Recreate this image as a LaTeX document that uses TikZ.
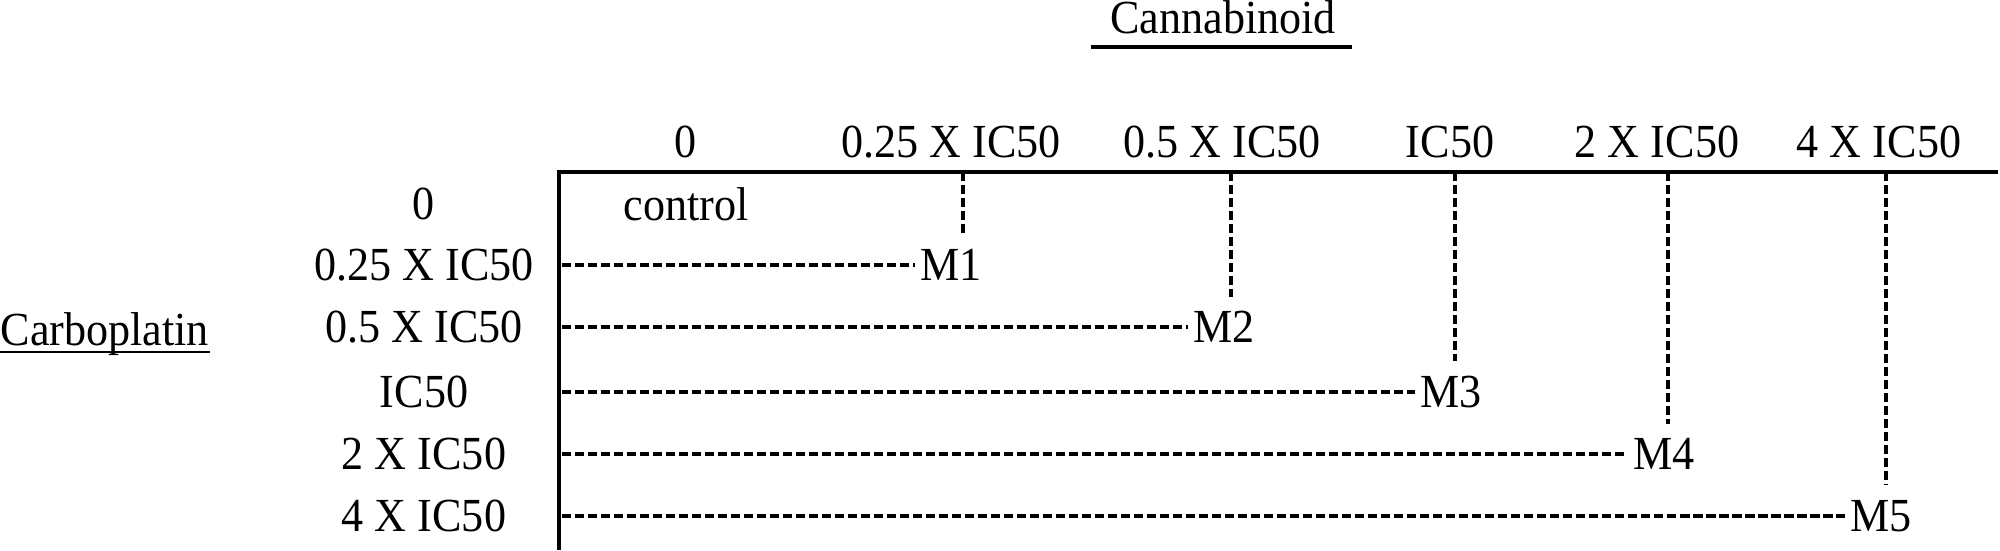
\documentclass[tikz,border=0pt]{standalone}
\usepackage{fontspec}
\setmainfont{Liberation Serif}
\begin{document}
\begin{tikzpicture}[
  every node/.style={font=\fontsize{13.5}{16}\selectfont, inner sep=0pt, xscale=0.93},
  axisline/.style={line width=1pt},
  dashline/.style={line width=1.35pt, dash pattern=on 2.6pt off 1.1pt},
  mlabel/.style={anchor=west, inner xsep=1.5pt, inner ysep=4pt},
  ulineA/.style={line width=1pt},
  ulineB/.style={line width=0.5pt}
]
\useasboundingbox (0,0) rectangle (20,5.5);

% titles
\node[anchor=base] (cann) at (12.23,5.17) {Cannabinoid};
\draw[ulineA] ([xshift=-0.19cm,yshift=-4pt]cann.base west) -- ([xshift=0.16cm,yshift=-4pt]cann.base east);
\node[anchor=base west] (carb) at (0.0,2.05) {Carboplatin};
\draw[ulineB] ([yshift=-2pt]carb.base west) -- ([yshift=-2pt]carb.base east);

% axes
\coordinate (corner) at (5.59,3.78);
\coordinate (axR) at (19.98,3.78);
\coordinate (axB) at (5.59,0);
\draw[axisline] (axR) -- (corner) -- (axB);

% column headers
\node (h0) at (6.86,4.08) {0};
\node (h1) at (9.51,4.08) {0.25 X IC50};
\node (h2) at (12.22,4.08) {0.5 X IC50};
\node (h3) at (14.50,4.08) {IC50};
\node (h4) at (16.57,4.08) {2 X IC50};
\node (h5) at (18.79,4.08) {4 X IC50};

% row headers
\node (r0) at (4.24,3.46) {0};
\node (r1) at (4.24,2.85) {0.25 X IC50};
\node (r2) at (4.24,2.23) {0.5 X IC50};
\node (r3) at (4.24,1.58) {IC50};
\node (r4) at (4.24,0.96) {2 X IC50};
\node (r5) at (4.24,0.34) {4 X IC50};

\node (ctrl) at (6.86,3.46) {control};

% mixture labels
\node[mlabel] (m1) at (9.15,2.85) {M1};
\node[mlabel] (m2) at (11.88,2.23) {M2};
\node[mlabel] (m3) at (14.15,1.58) {M3};
\node[mlabel] (m4) at (16.28,0.96) {M4};
\node[mlabel] (m5) at (18.45,0.34) {M5};

% row starts
\coordinate (s1) at (5.62,2.85);
\coordinate (s2) at (5.62,2.23);
\coordinate (s3) at (5.62,1.58);
\coordinate (s4) at (5.62,0.96);
\coordinate (s5) at (5.62,0.34);

% column tops
\coordinate (t1) at (9.63,3.78);
\coordinate (t2) at (12.31,3.78);
\coordinate (t3) at (14.55,3.78);
\coordinate (t4) at (16.68,3.78);
\coordinate (t5) at (18.86,3.78);

\foreach \k in {1,...,5}{
  \draw[dashline] (s\k) -- (m\k.west);
  \draw[dashline] (t\k) -- (t\k |- m\k.north);
}
\end{tikzpicture}
\end{document}
